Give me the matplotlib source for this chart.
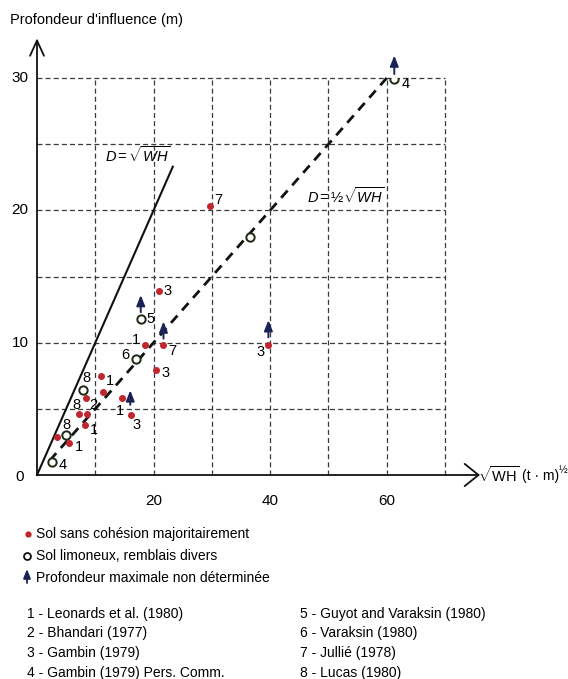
import numpy as np
import matplotlib.pyplot as plt

# DATA (x = sqrt(WH) in (t.m)^1/2, y = depth in m)
sand_x = [20.9, 18.6, 21.7, 20.5, 11.0, 11.4, 8.4, 14.5, 16.1, 7.2, 8.5, 8.2, 3.4, 5.5, 39.7, 29.6]
sand_y = [13.9, 9.85, 9.8, 7.9, 7.5, 6.3, 5.8, 5.8, 4.5, 4.6, 4.6, 3.8, 2.9, 2.4, 9.8, 20.3]
sand_lbl = ['3', '1', '7', '3', '1', '', '2', '1', '3', '8', '', '1', '', '1', '3', '7']

silt_x = [17.8, 17.0, 7.9, 5.0, 2.5, 36.5, 61.3]
silt_y = [11.8, 8.75, 6.4, 3.0, 1.0, 18.0, 29.9]
silt_lbl = ['5', '6', '8', '8', '4', '', '4']

# points whose maximum depth was not reached (arrow start / end)
arrow_x = [17.8, 21.7, 16.0, 39.7, 61.3]
arrow_y0 = [12.3, 10.3, 5.3, 10.4, 30.3]
arrow_y1 = [13.6, 11.6, 6.4, 11.7, 31.7]

x_grid = [10, 20, 30, 40, 50, 60, 70]
y_grid = [5, 10, 15, 20, 25, 30]
x_ticks = [20, 40, 60]
y_ticks = [10, 20, 30]

legend_items = ['Sol sans cohésion majoritairement',
                'Sol limoneux, remblais divers',
                'Profondeur maximale non déterminée']
refs_left = ['1 - Leonards et al. (1980)', '2 - Bhandari (1977)',
             '3 - Gambin (1979)', '4 - Gambin (1979) Pers. Comm.']
refs_right = ['5 - Guyot and Varaksin (1980)', '6 - Varaksin (1980)',
              '7 - Jullié (1978)', '8 - Lucas (1980)']

# label offsets in pixels (dx, dy)
sand_off = [(9, 0), (-9, 5), (9, -6), (9, -3), (9, -5), (0, 0), (7, -7), (-2, -13),
            (6, -10), (-3, 9), (0, 0), (9, -5), (0, 0), (10, -4), (-8, -7), (9, 6)]
silt_off = [(10, 0), (-11, 4), (3, 12), (0, 10), (11, -3), (0, 0), (11, -5)]

plt.rcParams['font.family'] = ['Liberation Sans', 'DejaVu Sans']
plt.rcParams['mathtext.fontset'] = 'custom'
plt.rcParams['mathtext.rm'] = 'Liberation Sans'
plt.rcParams['mathtext.it'] = 'Liberation Sans:italic'

W, H = 568, 679
fig = plt.figure(figsize=(W / 100, H / 100), dpi=100)
fig.patch.set_facecolor('white')

ax = fig.add_axes([37 / W, (H - 475) / H, 408 / W, 397 / H])
ax.set_xlim(0, 70)
ax.set_ylim(0, 30)
ax.axis('off')

RED = '#c0262d'
NAVY = '#1b2356'
FS = 10.5

# grid
for gx in x_grid:
    ax.plot([gx, gx], [0, 30], color='#3a3a3a', lw=0.9, ls=(0, (4, 2.5)), clip_on=False)
for gy in y_grid:
    ax.plot([0, 70], [gy, gy], color='#3a3a3a', lw=0.9, ls=(0, (4, 2.5)), clip_on=False)

# axes with open arrow heads
ax.annotate('', xy=(76, 0), xytext=(0, 0),
            arrowprops=dict(arrowstyle='->,head_length=0.5,head_width=0.4',
                            lw=1.3, color='#111111', mutation_scale=20,
                            shrinkA=0, shrinkB=0), annotation_clip=False)
ax.annotate('', xy=(0, 33), xytext=(0, 0),
            arrowprops=dict(arrowstyle='->,head_length=0.55,head_width=0.25',
                            lw=1.3, color='#111111', mutation_scale=20,
                            shrinkA=0, shrinkB=0), annotation_clip=False)

# D = sqrt(WH) and D = 1/2 sqrt(WH)
xs = np.array([0, 23.3])
ax.plot(xs, xs, color='#111111', lw=1.5, clip_on=False)
xd = np.array([2.2, 60.8])
ax.plot(xd, xd / 2, color='#111111', lw=2.0, ls=(0, (3.5, 2.5)), clip_on=False)

ax.text(11.6, 24.2, r'$D = \sqrt{WH}$', fontsize=FS, va='center', ha='left')
ax.text(46.3, 21.1, r'$D = ½\sqrt{WH}$', fontsize=FS, va='center', ha='left')

# points
ax.plot(sand_x, sand_y, 'o', ms=4.0, color=RED, mec=RED, ls='none', zorder=5)
ax.plot(silt_x, silt_y, 'o', ms=6, mfc='white', mec='#1d2a12', mew=1.4, ls='none', zorder=5)

for x, y0, y1 in zip(arrow_x, arrow_y0, arrow_y1):
    ax.annotate('', xy=(x, y1), xytext=(x, y0),
                arrowprops=dict(arrowstyle='-|>,head_length=0.45,head_width=0.18',
                                lw=1.4, color=NAVY, mutation_scale=14,
                                shrinkA=0, shrinkB=0), annotation_clip=False, zorder=6)

for x, y, s, (dx, dy) in zip(sand_x, sand_y, sand_lbl, sand_off):
    if s:
        ax.annotate(s, (x, y), xytext=(dx, dy), textcoords='offset pixels',
                    ha='center', va='center', fontsize=FS)
for x, y, s, (dx, dy) in zip(silt_x, silt_y, silt_lbl, silt_off):
    if s:
        ax.annotate(s, (x, y), xytext=(dx, dy), textcoords='offset pixels',
                    ha='center', va='center', fontsize=FS)

# tick labels
for t in x_ticks:
    ax.annotate(str(t), (t, 0), xytext=(0, -26), textcoords='offset pixels',
                ha='center', va='center', fontsize=FS + 0.5)
for t in y_ticks:
    ax.annotate(str(t), (0, t), xytext=(-17, 0), textcoords='offset pixels',
                ha='center', va='center', fontsize=FS + 0.5)
ax.annotate('0', (0, 0), xytext=(-17, -2), textcoords='offset pixels',
            ha='center', va='center', fontsize=FS + 0.5)

# overlay in pixel coordinates for titles and legend
ov = fig.add_axes([0, 0, 1, 1], facecolor='none')
ov.set_xlim(0, W)
ov.set_ylim(H, 0)
ov.axis('off')

ov.text(10, 20, "Profondeur d'influence (m)", fontsize=FS, va='center', ha='left')

# x axis title built from pieces placed one after another
fig.canvas.draw()
rend = fig.canvas.get_renderer()
t1 = ov.text(478, 475, r'$\sqrt{\mathrm{WH}}$', fontsize=FS, va='center', ha='left')
x_end = ov.transData.inverted().transform(t1.get_window_extent(rend))[1][0]
t2 = ov.text(x_end + 2, 476, '(t · m)', fontsize=FS - 0.5, va='center', ha='left')
x_end = ov.transData.inverted().transform(t2.get_window_extent(rend))[1][0]
ov.text(x_end, 470, '½', fontsize=FS - 3, va='center', ha='left')

# legend
ov.plot([28], [534], 'o', ms=3.5, color=RED)
ov.plot([27], [556], 'o', ms=5, mfc='white', mec='#111111', mew=1.3)
ov.annotate('', xy=(27, 569), xytext=(27, 583),
            arrowprops=dict(arrowstyle='-|>,head_length=0.45,head_width=0.18',
                            lw=1.3, color=NAVY, mutation_scale=12,
                            shrinkA=0, shrinkB=0))
for i, s in enumerate(legend_items):
    ov.text(36, 534 + 22 * i, s, fontsize=FS - 0.5, va='center', ha='left')

for i, s in enumerate(refs_left):
    ov.text(27, 614 + 19.5 * i, s, fontsize=FS - 0.5, va='center', ha='left')
for i, s in enumerate(refs_right):
    ov.text(300, 614 + 19.5 * i, s, fontsize=FS - 0.5, va='center', ha='left')

fig.savefig('out.png', dpi=100, facecolor='white')
